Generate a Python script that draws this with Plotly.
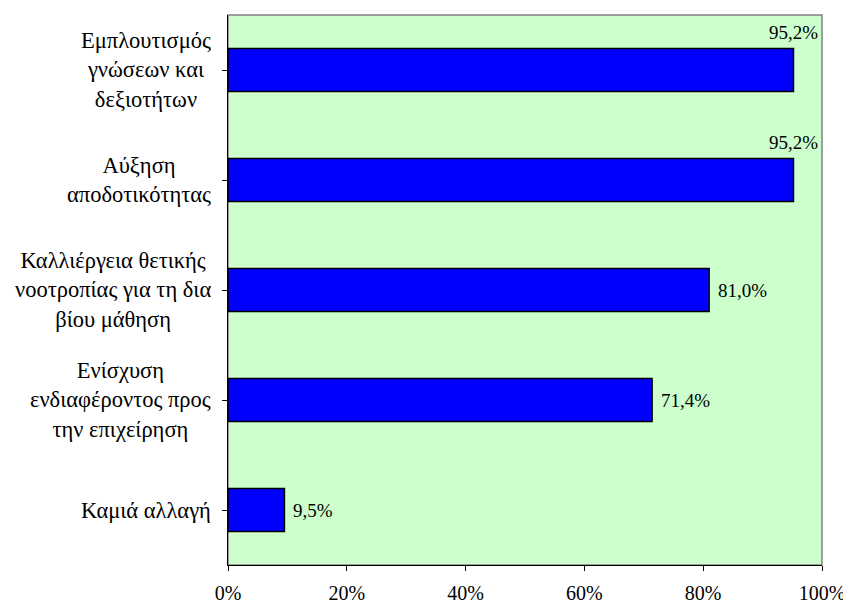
import plotly.graph_objects as go

categories = [
    "Εμπλουτισμός<br>γνώσεων και<br>δεξιοτήτων",
    "Αύξηση<br>αποδοτικότητας",
    "Καλλιέργεια θετικής<br>νοοτροπίας για τη δια<br>βίου μάθηση",
    "Ενίσχυση<br>ενδιαφέροντος προς<br>την επιχείρηση",
    "Καμιά αλλαγή",
]
values = [95.2, 95.2, 81.0, 71.4, 9.5]
x_ticks = [0, 20, 40, 60, 80, 100]
x_tick_labels = ["0%", "20%", "40%", "60%", "80%", "100%"]

FONT = "'Liberation Serif', 'Times New Roman', serif"
cat_ids = list(range(len(categories)))

fig = go.Figure()
fig.add_trace(go.Bar(
    x=values, y=cat_ids, orientation="h",
    marker=dict(color="#0000FF", line=dict(color="#000000", width=1.5)),
    hoverinfo="skip",
))

annotations = []
for i, lab in enumerate(categories):
    annotations.append(dict(
        x=-0.026, xref="paper", y=i, yref="y",
        text=lab, showarrow=False, xanchor="right", yanchor="middle",
        align="center", font=dict(family=FONT, size=22.5, color="#000000"),
    ))

for i, v in enumerate(values):
    t = f"{v:.1f}".replace(".", ",") + "%"
    if v > 90:
        annotations.append(dict(
            x=v, xref="x", y=i, yref="y", text=t, showarrow=False,
            xanchor="center", yanchor="middle", yshift=38,
            font=dict(family=FONT, size=19, color="#000000"),
        ))
    else:
        annotations.append(dict(
            x=v, xref="x", y=i, yref="y", text=t, showarrow=False,
            xanchor="left", yanchor="middle", xshift=7,
            font=dict(family=FONT, size=19, color="#000000"),
        ))

fig.update_layout(
    width=843, height=596,
    margin=dict(l=220, r=29, t=7, b=39, autoexpand=False),
    paper_bgcolor="#FFFFFF", plot_bgcolor="#CCFFCC",
    showlegend=False, bargap=0.61,
    font=dict(family=FONT, color="#000000"),
    annotations=annotations,
    shapes=[dict(type="rect", xref="paper", yref="paper", x0=0, y0=0, x1=1, y1=1,
                 line=dict(color="#808080", width=1.5), layer="below")],
    xaxis=dict(
        range=[0, 100], tickvals=x_ticks, ticktext=x_tick_labels,
        showgrid=False, zeroline=False, showline=True, linecolor="#000000", linewidth=1,
        ticks="outside", ticklen=5, tickcolor="#000000",
        tickfont=dict(family=FONT, size=20, color="#000000"),
        ticklabelstandoff=5, automargin=False,
    ),
    yaxis=dict(
        range=[4.5, -0.5], tickvals=cat_ids, tickson="boundaries",
        showticklabels=False, showgrid=False, zeroline=False,
        showline=True, linecolor="#000000", linewidth=1,
        ticks="outside", ticklen=5, tickcolor="#000000", automargin=False,
    ),
)

fig.write_html("out.html")
